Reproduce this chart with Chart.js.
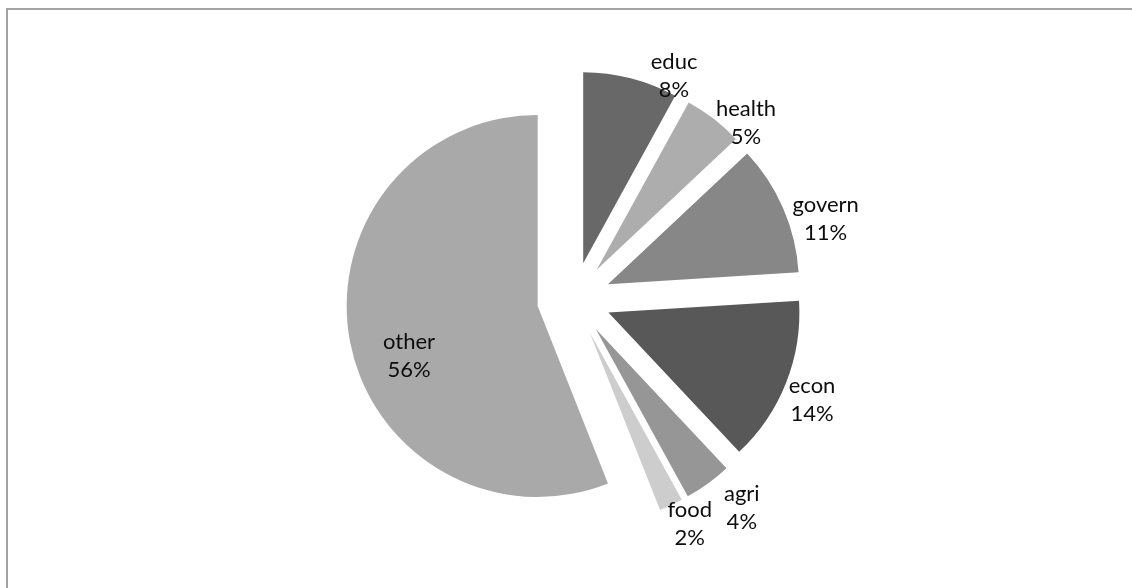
<!DOCTYPE html>
<html>
<head>
<meta charset="utf-8">
<script src="https://cdn.jsdelivr.net/npm/chart.js@4.4.1/dist/chart.umd.min.js"></script>
<style>
  html, body { margin: 0; padding: 0; background: #ffffff; }
  canvas { display: block; }
</style>
</head>
<body>
<canvas id="chart" width="1132" height="588"></canvas>
<script>
// Sector shares of spending (percent), clockwise from 12 o'clock
const categories = ['educ', 'health', 'govern', 'econ', 'agri', 'food', 'other'];
const shares = [8, 5, 11, 14, 4, 2, 56];
const sliceColors = ['#686868', '#adadad', '#878787', '#585858', '#969696', '#cdcdcd', '#a9a9a9'];

// Pulls every slice out along its middle angle, then writes "name / pct" labels
const explodedPie = {
  id: 'explodedPie',
  beforeDraw(chart, args, opts) {
    const ctx = chart.ctx;
    ctx.save();
    ctx.fillStyle = opts.frameColor;
    ctx.fillRect(6, 8, chart.width - 6, 2);
    ctx.fillRect(6, 8, 2, chart.height - 8);
    ctx.restore();
  },
  beforeDatasetDraw(chart, args, opts) {
    const ctx = chart.ctx;
    args.meta.data.forEach(arc => {
      const mid = (arc.startAngle + arc.endAngle) / 2;
      ctx.save();
      ctx.translate(Math.cos(mid) * opts.explode, Math.sin(mid) * opts.explode);
      arc.draw(ctx);
      ctx.restore();
    });
    return false;
  },
  afterDatasetsDraw(chart, args, opts) {
    const ctx = chart.ctx;
    const meta = chart.getDatasetMeta(0);
    const values = chart.data.datasets[0].data;
    const total = values.reduce((a, b) => a + b, 0);
    ctx.save();
    ctx.font = opts.font;
    ctx.fillStyle = opts.color;
    ctx.textAlign = 'center';
    ctx.textBaseline = 'middle';
    meta.data.forEach((arc, i) => {
      const mid = (arc.startAngle + arc.endAngle) / 2;
      const vx = arc.x + Math.cos(mid) * opts.explode;
      const vy = arc.y + Math.sin(mid) * opts.explode;
      const [k, shift] = opts.placement[i];
      const a = mid + shift * Math.PI / 180;
      const r = arc.outerRadius * k;
      const lx = vx + Math.cos(a) * r;
      const ly = vy + Math.sin(a) * r;
      const pct = Math.round(values[i] / total * 100) + '%';
      ctx.fillText(chart.data.labels[i], lx, ly - opts.lineHeight / 2);
      ctx.fillText(pct, lx, ly + opts.lineHeight / 2);
    });
    ctx.restore();
  }
};

function build() {
  new Chart(document.getElementById('chart'), {
    type: 'pie',
    data: {
      labels: categories,
      datasets: [{
        data: shares,
        backgroundColor: sliceColors,
        borderWidth: 0,
        radius: 191
      }]
    },
    options: {
      responsive: false,
      animation: false,
      events: [],
      layout: { padding: { left: 16, right: 0, top: 10, bottom: 0 } },
      plugins: {
        legend: { display: false },
        tooltip: { enabled: false },
        explodedPie: {
          explode: 37,
          frameColor: '#a3a3a3',
          font: '22px Lato, "Open Sans", sans-serif',
          color: '#0d0d0d',
          lineHeight: 28,
          // [distance as a fraction of the radius, angular shift in degrees]
          placement: [
            [1.089, 11.5],
            [1.096, 7.7],
            [1.19, 6.7],
            [1.16, 1.6],
            [1.21, -3.2],
            [1.13, -2.4],
            [0.723, -10.5]
          ]
        }
      }
    },
    plugins: [explodedPie]
  });
}

if (document.fonts && document.fonts.load) {
  document.fonts.load('22px Lato').then(build, build);
} else {
  build();
}
</script>
</body>
</html>
